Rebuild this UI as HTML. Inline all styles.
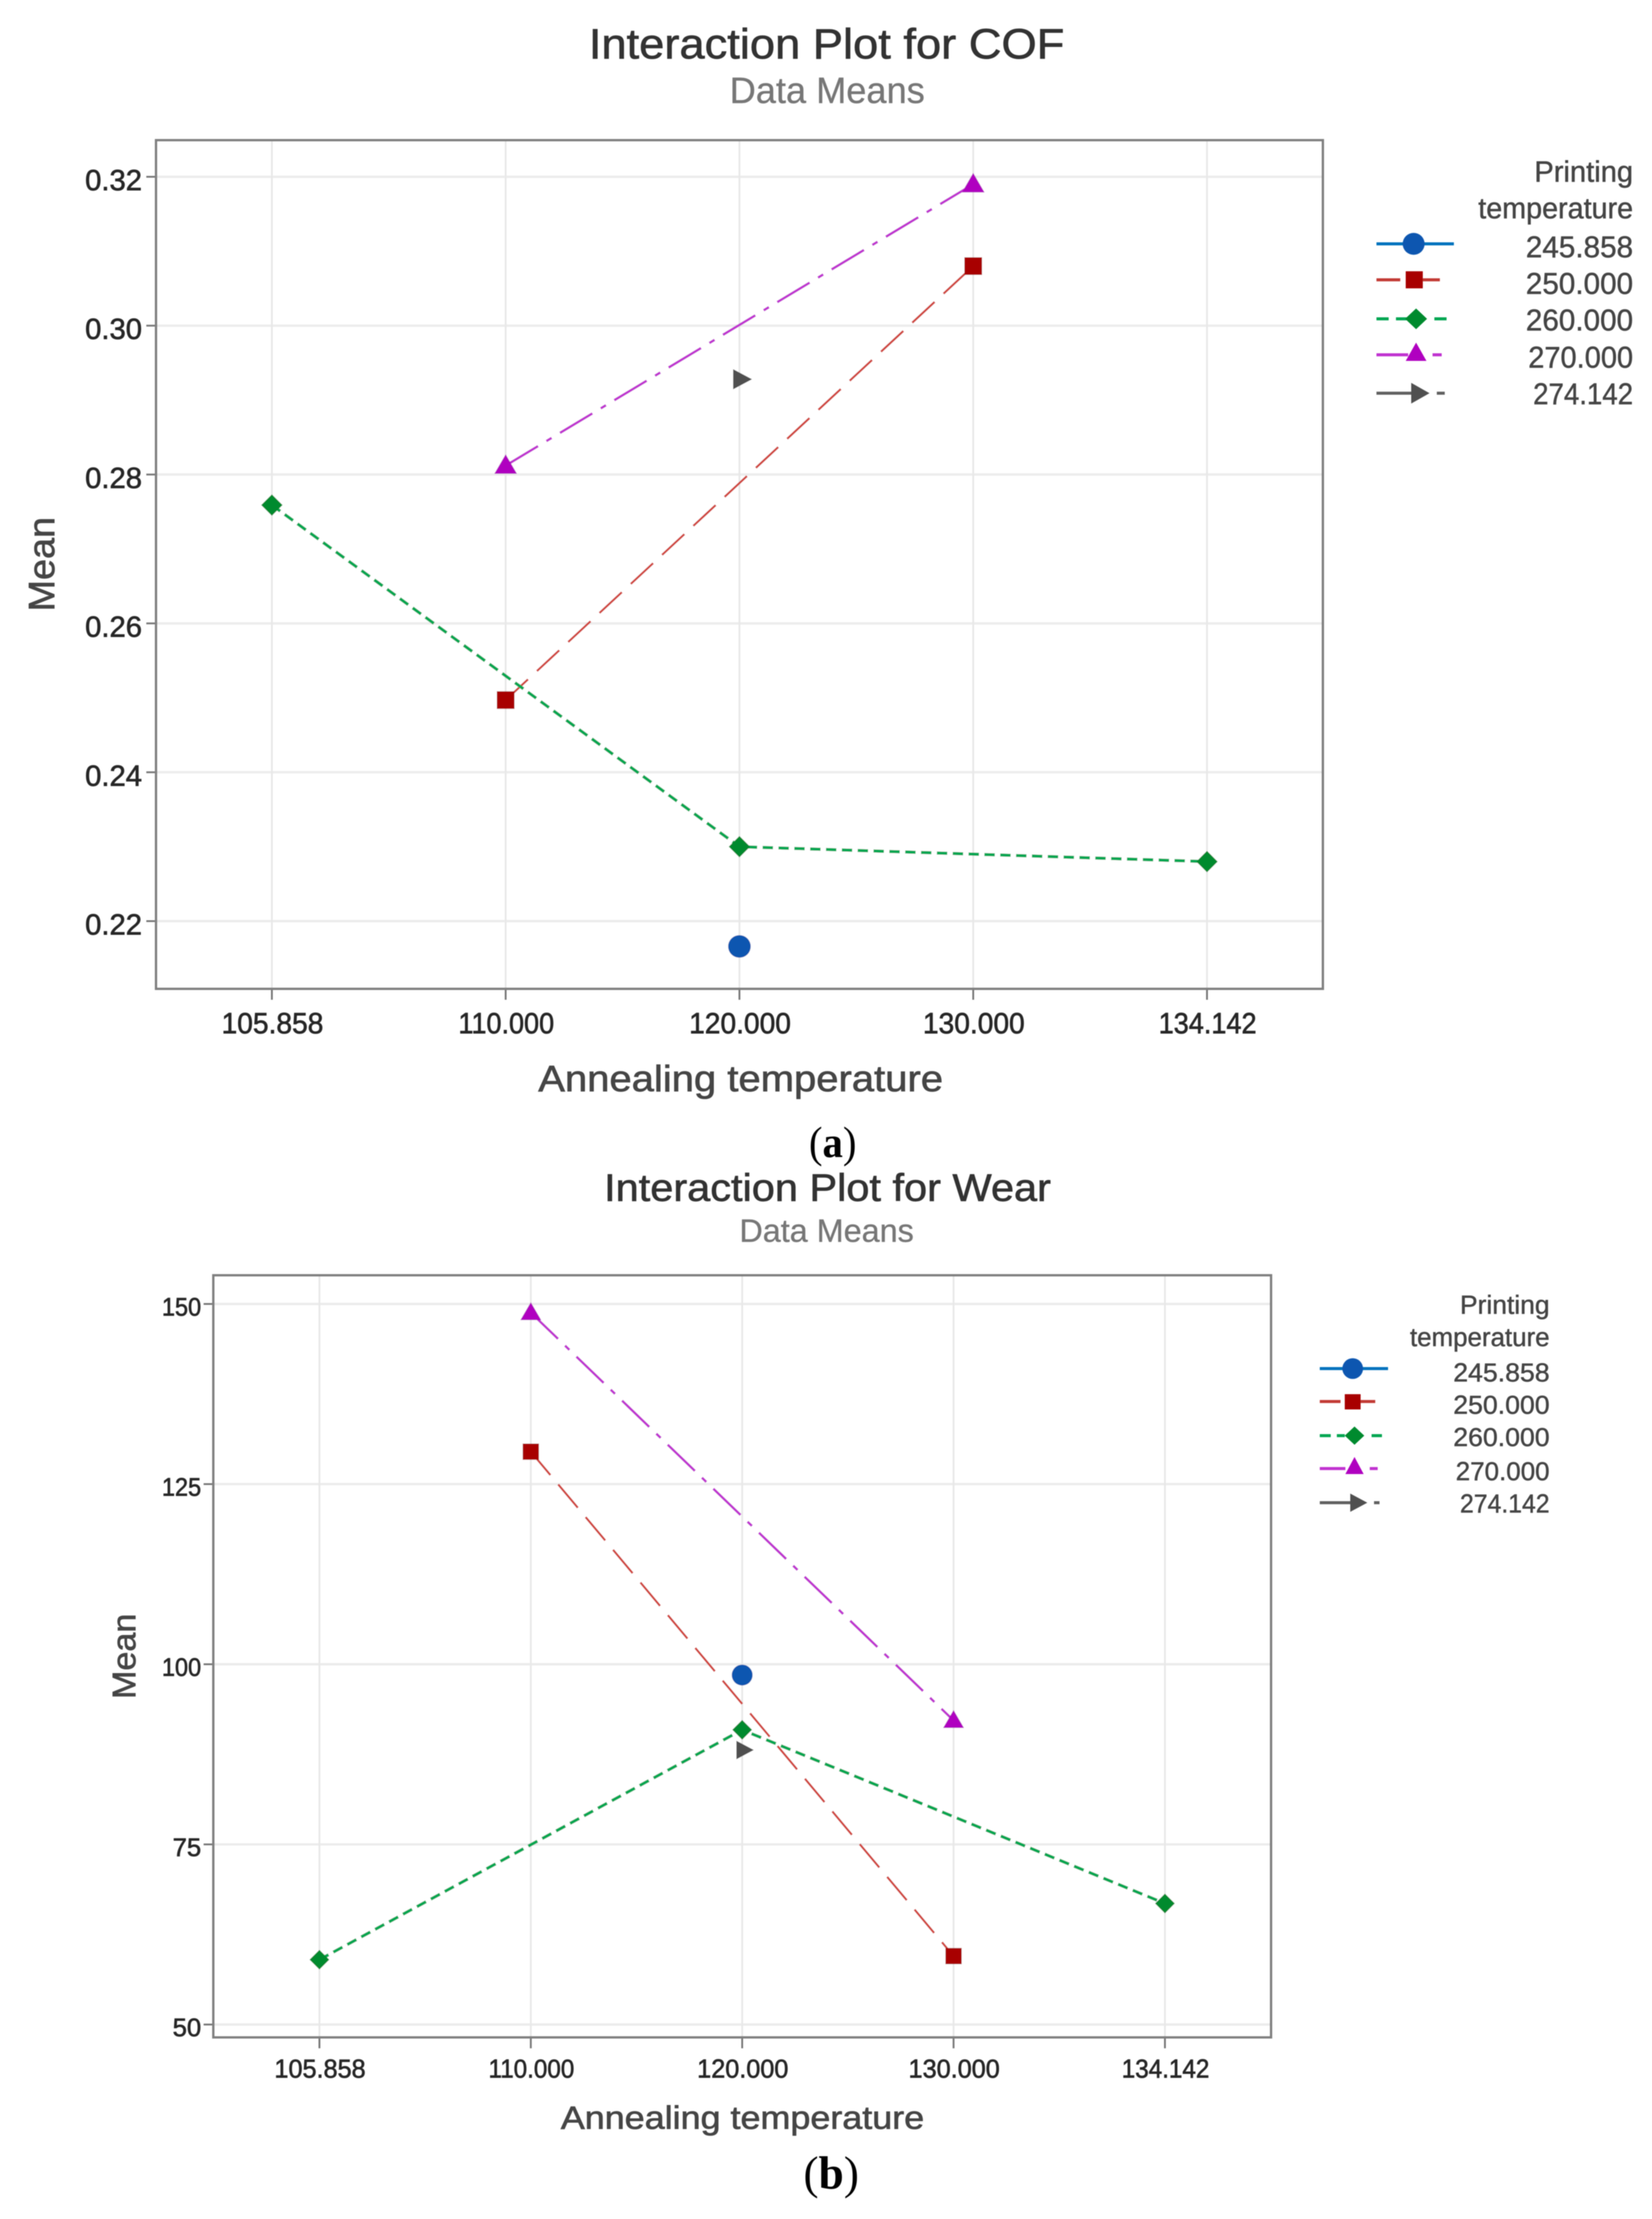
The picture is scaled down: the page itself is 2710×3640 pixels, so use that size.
<!DOCTYPE html>
<html lang="en">
<head>
<meta charset="utf-8">
<title>Interaction Plots for COF and Wear</title>
<style>
html,body{margin:0;padding:0;background:#fff;width:2710px;height:3640px;overflow:hidden}
svg{display:block}
text{font-family:"Liberation Sans",sans-serif}
.caption{font-family:"Liberation Serif",serif;fill:#000}
.title{fill:#333;stroke:#333;stroke-width:1}
.sub{fill:#777;stroke:#777;stroke-width:.5}
.axt{fill:#444;stroke:#444;stroke-width:1}
.leg{fill:#444;stroke:#444;stroke-width:.7;text-anchor:end}
</style>
</head>
<body>
<svg id="figure" xmlns="http://www.w3.org/2000/svg" width="2710" height="3640" viewBox="0 0 2710 3640">
<defs><filter id="soft" x="0" y="0" width="100%" height="100%"><feGaussianBlur stdDeviation="0.9"/></filter></defs>
<rect x="0" y="0" width="2710" height="3640" fill="#fff"/>
<g id="root" filter="url(#soft)">

<text class="title" x="966" y="96" font-size="70" textLength="780" lengthAdjust="spacingAndGlyphs">Interaction Plot for COF</text>
<text class="sub" x="1197" y="169" font-size="60" textLength="320" lengthAdjust="spacingAndGlyphs">Data Means</text>
<text class="axt" x="883" y="1790" font-size="60" textLength="664" lengthAdjust="spacingAndGlyphs">Annealing temperature</text>
<text class="axt" transform="translate(89,1003) rotate(-90)" font-size="60" textLength="155" lengthAdjust="spacingAndGlyphs">Mean</text>
<text class="caption" x="1327" y="1898" font-size="72" textLength="78" lengthAdjust="spacingAndGlyphs">(<tspan font-weight="bold">a</tspan>)</text>

<g id="legend-a">
<text class="leg" x="2679" y="298" font-size="48" textLength="162" lengthAdjust="spacingAndGlyphs">Printing</text>
<text class="leg" x="2679" y="358" font-size="48" textLength="254" lengthAdjust="spacingAndGlyphs">temperature</text>
<g>
<line x1="2258" y1="400" x2="2385" y2="400" stroke="#0072bd" stroke-width="5"/><circle cx="2319" cy="400" r="18" fill="#0a56b0"/>
<text class="leg" x="2679" y="422" font-size="49" textLength="176" lengthAdjust="spacingAndGlyphs">245.858</text></g>
<g>
<path d="M2258 459H2297M2334 459H2362" stroke="#c23b36" stroke-width="5" fill="none"/><rect x="2306" y="445" width="28" height="28" fill="#a80000"/>
<text class="leg" x="2679" y="482" font-size="49" textLength="176" lengthAdjust="spacingAndGlyphs">250.000</text></g>
<g>
<path d="M2258 523H2278M2290 523H2310M2353 523H2373" stroke="#00a651" stroke-width="5" fill="none"/><polygon points="2323,506 2341,523 2323,540 2305,523" fill="#008a2e"/>
<text class="leg" x="2679" y="542" font-size="49" textLength="176" lengthAdjust="spacingAndGlyphs">260.000</text></g>
<g>
<path d="M2258 582H2310M2350 582H2365" stroke="#c030d0" stroke-width="5" fill="none"/><polygon points="2323,562 2340,592 2306,592" fill="#b000c0"/>
<text class="leg" x="2679" y="603" font-size="49" textLength="172" lengthAdjust="spacingAndGlyphs">270.000</text></g>
<g>
<path d="M2258 645H2315M2357 645H2370" stroke="#606060" stroke-width="5" fill="none"/><polygon points="2315,628 2345,645 2315,662" fill="#505050"/>
<text class="leg" x="2679" y="663" font-size="49" textLength="164" lengthAdjust="spacingAndGlyphs">274.142</text></g>
</g>

<text class="title" x="991" y="1970" font-size="63" textLength="733" lengthAdjust="spacingAndGlyphs">Interaction Plot for Wear</text>
<text class="sub" x="1213" y="2037" font-size="53" textLength="286" lengthAdjust="spacingAndGlyphs">Data Means</text>
<text class="axt" x="920" y="3492" font-size="53" textLength="596" lengthAdjust="spacingAndGlyphs">Annealing temperature</text>
<text class="axt" transform="translate(222,2787) rotate(-90)" font-size="54" textLength="140" lengthAdjust="spacingAndGlyphs">Mean</text>
<text class="caption" x="1318" y="3590" font-size="76" textLength="91" lengthAdjust="spacingAndGlyphs">(<tspan font-weight="bold">b</tspan>)</text>

<g id="legend-b">
<text class="leg" x="2542" y="2155" font-size="43" textLength="147" lengthAdjust="spacingAndGlyphs">Printing</text>
<text class="leg" x="2542" y="2208" font-size="43" textLength="229" lengthAdjust="spacingAndGlyphs">temperature</text>
<g>
<line x1="2165" y1="2245" x2="2277" y2="2245" stroke="#0072bd" stroke-width="5"/><circle cx="2219" cy="2245" r="17" fill="#0a56b0"/>
<text class="leg" x="2542" y="2266" font-size="43" textLength="158" lengthAdjust="spacingAndGlyphs">245.858</text></g>
<g>
<path d="M2165 2299H2199M2232 2299H2256" stroke="#c23b36" stroke-width="5" fill="none"/><rect x="2206" y="2287" width="26" height="25" fill="#a80000"/>
<text class="leg" x="2542" y="2319" font-size="43" textLength="158" lengthAdjust="spacingAndGlyphs">250.000</text></g>
<g>
<path d="M2165 2355H2183M2193 2355H2206M2250 2355H2267" stroke="#00a651" stroke-width="5" fill="none"/><polygon points="2222,2340 2238,2355 2222,2370 2206,2355" fill="#008a2e"/>
<text class="leg" x="2542" y="2372" font-size="43" textLength="158" lengthAdjust="spacingAndGlyphs">260.000</text></g>
<g>
<path d="M2165 2409H2207M2247 2409H2260" stroke="#c030d0" stroke-width="5" fill="none"/><polygon points="2222,2390 2237,2418 2207,2418" fill="#b000c0"/>
<text class="leg" x="2542" y="2428" font-size="43" textLength="154" lengthAdjust="spacingAndGlyphs">270.000</text></g>
<g>
<path d="M2165 2465H2215M2254 2465H2263" stroke="#606060" stroke-width="5" fill="none"/><polygon points="2215,2450 2243,2465 2215,2480" fill="#505050"/>
<text class="leg" x="2542" y="2481" font-size="43" textLength="147" lengthAdjust="spacingAndGlyphs">274.142</text></g>
</g>

<g id="plots"></g>
</g>
</svg>
<script>
const xCategories = ['105.858', '110.000', '120.000', '130.000', '134.142'];

const cofYTicks = [0.22, 0.24, 0.26, 0.28, 0.30, 0.32];
const cofYTickLabels = ['0.22', '0.24', '0.26', '0.28', '0.30', '0.32'];
const cofTemp245 = [null, null, 0.2166, null, null];
const cofTemp250 = [null, 0.2497, null, 0.308, null];
const cofTemp260 = [0.2759, null, 0.23, null, 0.228];
const cofTemp270 = [null, 0.2812, null, 0.319, null];
const cofTemp274 = [null, null, 0.2928, null, null];

const wearYTicks = [50, 75, 100, 125, 150];
const wearYTickLabels = ['50', '75', '100', '125', '150'];
const wearTemp245 = [null, null, 98.5, null, null];
const wearTemp250 = [null, 129.5, null, 59.5, null];
const wearTemp260 = [59, null, 90.9, null, 66.8];
const wearTemp270 = [null, 148.8, null, 92.2, null];
const wearTemp274 = [null, null, 88.1, null, null];

const NS = 'http://www.w3.org/2000/svg';
const plotsLayer = document.getElementById('plots');

function make(tag, attrs, name, parent) {
  const el = document.createElementNS(NS, tag);
  for (const k in attrs) el.setAttribute(k, attrs[k]);
  
  
  (parent || plotsLayer).appendChild(el);
  return el;
}

function fitNarrowOnes(textEl, label, fontSize) {
  const ones = label.split('1').length - 1;
  const natural = textEl.getComputedTextLength();
  if (ones > 0) {
    textEl.setAttribute('textLength', natural - ones * 0.135 * fontSize);
    textEl.setAttribute('lengthAdjust', 'spacingAndGlyphs');
  }
}

function drawMarker(shape, cx, cy, k, color, name, parent) {
  if (shape === 'circle') {
    make('circle', {cx: cx, cy: cy, r: 18 * k, fill: color}, name, parent);
  } else if (shape === 'square') {
    make('rect', {x: cx - 14 * k, y: cy - 14 * k, width: 28 * k, height: 28 * k, fill: color}, name, parent);
  } else if (shape === 'diamond') {
    const p = [[cx, cy - 17 * k], [cx + 17 * k, cy], [cx, cy + 17 * k], [cx - 17 * k, cy]];
    make('polygon', {points: p.map(a => a.join(',')).join(' '), fill: color}, name, parent);
  } else if (shape === 'triangle') {
    const p = [[cx, cy - 18 * k], [cx + 18 * k, cy + 13 * k], [cx - 18 * k, cy + 13 * k]];
    make('polygon', {points: p.map(a => a.join(',')).join(' '), fill: color}, name, parent);
  } else {
    const p = [[cx - 10 * k, cy - 16 * k], [cx + 20 * k, cy], [cx - 10 * k, cy + 16 * k]];
    make('polygon', {points: p.map(a => a.join(',')).join(' '), fill: color}, name, parent);
  }
}

function drawChart(c) {
  const xScale = i => c.x0 + (c.x4 - c.x0) * i / (xCategories.length - 1);
  const yScale = v => c.yLow + (v - c.vLow) * (c.yHigh - c.yLow) / (c.vHigh - c.vLow);
  const g = make('g', {}, c.id + '-chart');

  make('rect', {x: c.left, y: c.top, width: c.right - c.left, height: c.bottom - c.top, fill: '#fff'}, c.id + '-plot-area', g);

  c.yTicks.forEach((v, i) => {
    const y = yScale(v);
    make('line', {x1: c.left, x2: c.right, y1: y, y2: y, stroke: '#ececec', 'stroke-width': 4}, c.id + '-y-gridline', g);
    make('line', {x1: c.left - 16, x2: c.left, y1: y, y2: y, stroke: '#777', 'stroke-width': 3}, c.id + '-y-tick', g);
    const t = make('text', {x: c.left - c.yLabelGap, y: y + c.yLabelDy, 'font-size': c.yFont, 'text-anchor': 'end', fill: '#262626', stroke: '#262626', 'stroke-width': 1}, c.id + '-y-tick-label', g);
    t.textContent = c.yLabels[i];
    fitNarrowOnes(t, c.yLabels[i], c.yFont);
  });

  xCategories.forEach((label, i) => {
    const x = xScale(i);
    make('line', {x1: x, x2: x, y1: c.top, y2: c.bottom, stroke: '#e8e8e8', 'stroke-width': 3}, c.id + '-x-gridline', g);
    make('line', {x1: x, x2: x, y1: c.bottom, y2: c.bottom + 18, stroke: '#777', 'stroke-width': 3}, c.id + '-x-tick', g);
    const t = make('text', {x: x + 1, y: c.xLabelY, 'font-size': c.xFont, 'text-anchor': 'middle', fill: '#262626', stroke: '#262626', 'stroke-width': 1}, c.id + '-x-tick-label', g);
    t.textContent = label;
    fitNarrowOnes(t, label, c.xFont);
  });

  c.series.forEach(s => {
    const pts = [];
    s.values.forEach((v, i) => { if (v !== null) pts.push([xScale(i), yScale(v)]); });
    if (pts.length > 1) {
      make('polyline', {points: pts.map(p => p.join(',')).join(' '), fill: 'none', stroke: s.line, 'stroke-width': s.width, 'stroke-dasharray': s.dash}, c.id + '-line-' + s.key, g);
    }
  });
  c.series.forEach(s => {
    s.values.forEach((v, i) => {
      if (v !== null) drawMarker(s.shape, xScale(i), yScale(v), c.markerScale, s.fill, c.id + '-point-' + s.key, g);
    });
  });

  make('rect', {x: c.left, y: c.top, width: c.right - c.left, height: c.bottom - c.top, fill: 'none', stroke: '#808080', 'stroke-width': 4}, c.id + '-plot-frame', g);
}

const styleDash = {
  s245: {line: '#0072bd', fill: '#0a56b0', width: 3, dash: 'none', shape: 'circle'},
  s250: {line: '#d0443c', fill: '#a80000', width: 3.5, dash: '50 20', shape: 'square'},
  s260: {line: '#00a651', fill: '#008a2e', width: 5, dash: '17 9', shape: 'diamond'},
  s270: {line: '#c030d0', fill: '#b000c0', width: 4, dash: '62 16 10 16', shape: 'triangle'},
  s274: {line: '#606060', fill: '#505050', width: 3, dash: 'none', shape: 'arrow'}
};

drawChart({
  id: 'cof', left: 256, right: 2170, top: 230, bottom: 1622,
  x0: 446, x4: 1980, yLow: 1511, yHigh: 290, vLow: 0.22, vHigh: 0.32,
  yTicks: cofYTicks, yLabels: cofYTickLabels,
  yFont: 48, xFont: 48, yLabelGap: 23, yLabelDy: 22, xLabelY: 1695, markerScale: 1.03,
  series: [
    Object.assign({key: '245-858', values: cofTemp245}, styleDash.s245),
    Object.assign({key: '250', values: cofTemp250}, styleDash.s250),
    Object.assign({key: '260', values: cofTemp260}, styleDash.s260),
    Object.assign({key: '270', values: cofTemp270}, styleDash.s270),
    Object.assign({key: '274-142', values: cofTemp274}, styleDash.s274)
  ]
});

drawChart({
  id: 'wear', left: 350, right: 2085, top: 2092, bottom: 3342,
  x0: 524, x4: 1911, yLow: 3321, yHigh: 2139, vLow: 50, vHigh: 150,
  yTicks: wearYTicks, yLabels: wearYTickLabels,
  yFont: 42, xFont: 43, yLabelGap: 20, yLabelDy: 19, xLabelY: 3408, markerScale: 0.95,
  series: [
    Object.assign({key: '245-858', values: wearTemp245}, styleDash.s245),
    Object.assign({key: '250', values: wearTemp250}, styleDash.s250),
    Object.assign({key: '260', values: wearTemp260}, styleDash.s260),
    Object.assign({key: '270', values: wearTemp270}, styleDash.s270),
    Object.assign({key: '274-142', values: wearTemp274}, styleDash.s274)
  ]
});
</script>
</body>
</html>
